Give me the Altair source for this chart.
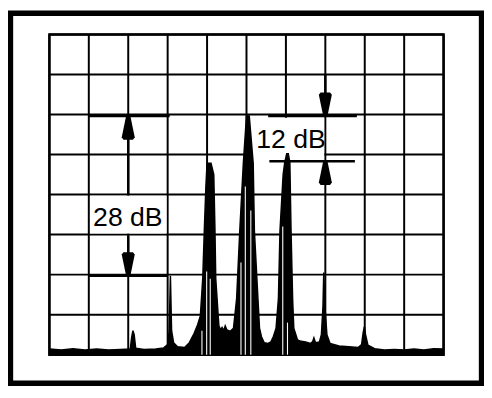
import altair as alt
import pandas as pd

# ---- spectrum trace (x in graticule divisions, y in divisions above bottom) ----
trace_x = [0.00, 0.30, 0.60, 0.90, 1.20, 1.50, 1.80,
           2.05, 2.09, 2.12, 2.15, 2.19,
           2.40, 2.70, 2.90, 3.00, 3.04, 3.07, 3.10, 3.15, 3.25,
           3.43, 3.55, 3.67, 3.76, 3.83, 3.89, 3.93, 3.97, 4.00, 4.10, 4.17, 4.20, 4.22, 4.28, 4.30,
           4.34, 4.38, 4.42, 4.46, 4.50, 4.55, 4.58,
           4.67, 4.75, 4.83, 4.92, 5.00, 5.07, 5.17, 5.20, 5.29, 5.33,
           5.38, 5.45, 5.55, 5.62, 5.68,
           5.75, 5.81, 5.85, 5.93, 5.97, 6.02, 6.06, 6.10, 6.13, 6.17, 6.20,
           6.29, 6.35, 6.50, 6.62, 6.68, 6.71, 6.75, 6.85, 6.90, 6.94, 6.96, 6.99, 7.04,
           7.12, 7.35, 7.60, 7.83, 7.92, 7.96, 7.99, 8.02, 8.08,
           8.25, 8.50, 8.75, 9.00, 9.25, 9.50, 9.75, 10.00]
trace_y = [0.14, 0.12, 0.15, 0.12, 0.14, 0.12, 0.13,
           0.14, 0.45, 0.60, 0.50, 0.16,
           0.13, 0.14, 0.17, 0.25, 0.60, 1.97, 0.60, 0.30, 0.20,
           0.18, 0.30, 0.53, 0.75, 0.97, 1.90, 3.10, 4.20, 4.78, 4.78, 4.50, 3.10, 1.90, 1.00, 0.72,
           0.62, 0.68, 0.60, 0.72, 0.62, 0.60, 0.58,
           0.66, 1.40, 3.10, 4.78, 5.96, 5.96, 4.78, 3.10, 1.40, 0.66,
           0.45, 0.30, 0.28, 0.32, 0.45,
           0.66, 1.40, 3.10, 4.50, 4.80, 5.02, 5.02, 4.80, 3.10, 1.40, 0.66,
           0.38, 0.34, 0.32, 0.28, 0.33, 0.42, 0.30, 0.32, 0.50, 1.20, 2.05, 1.20, 0.50,
           0.28, 0.22, 0.20, 0.18, 0.25, 0.55, 0.70, 0.50, 0.24,
           0.15, 0.12, 0.13, 0.12, 0.14, 0.12, 0.15, 0.14]

# white gaps inside the main peaks
sliver_x = [3.87, 3.99, 4.08, 4.86, 4.97, 5.11, 5.92, 6.04]
sliver_top = [0.60, 2.08, 1.90, 2.30, 4.20, 3.60, 3.20, 0.80]

# graticule
grid_x = [0, 1, 2, 3, 4, 5, 6, 7, 8, 9, 10]
grid_y = [0, 1, 2, 3, 4, 5, 6, 7, 8]

# annotation reference lines
ref_x1 = [1.00, 1.00, 5.55, 5.58]
ref_x2 = [3.05, 3.00, 7.80, 7.75]
ref_y = [5.96, 1.97, 5.96, 4.83]

# arrow stems
stem_x = [2.0, 2.0, 7.0]
stem_y1 = [5.96, 2.97, 7.00]
stem_y2 = [4.00, 1.97, 5.96]

# arrow tips
up_x = [2.0, 7.0]
up_y = [5.96, 4.83]
down_x = [2.0, 7.0]
down_y = [1.97, 5.96]

# label boxes and labels
box_x1 = [1.03, 5.10]
box_x2 = [2.97, 6.97]
box_y1 = [3.03, 4.87]
box_y2 = [3.97, 5.92]
label_text = ["28 dB", "12 dB"]
label_x = [1.99, 6.13]
label_y = [3.22, 5.17]

W, H = 400, 325
xs = alt.Scale(domain=[0, 10], nice=False, zero=False)
ys = alt.Scale(domain=[0, 8], nice=False, zero=False)


def X(f):
    return alt.X(f, type="quantitative", scale=xs, axis=None)


def Y(f):
    return alt.Y(f, type="quantitative", scale=ys, axis=None)


vgrid = alt.Chart(pd.DataFrame({"gx": grid_x, "lo": 0, "hi": 8})).mark_rule(
    color="black", strokeWidth=2).encode(x=X("gx"), y=Y("lo"), y2="hi")
hgrid = alt.Chart(pd.DataFrame({"gy": grid_y, "lo": 0, "hi": 10})).mark_rule(
    color="black", strokeWidth=2).encode(y=Y("gy"), x=X("lo"), x2="hi")
border = alt.Chart(pd.DataFrame({"a": [0]})).mark_rect(
    filled=False, stroke="black", strokeWidth=2.5).encode(
    x=alt.value(0), x2=alt.value(W), y=alt.value(0), y2=alt.value(H))

boxes = alt.Chart(pd.DataFrame({"x1": box_x1, "x2": box_x2, "y1": box_y1, "y2": box_y2})).mark_rect(
    color="white", opacity=1).encode(x=X("x1"), x2="x2", y=Y("y1"), y2="y2")

trace = alt.Chart(pd.DataFrame({"x": trace_x, "y": trace_y})).mark_area(
    color="black", line={"color": "black", "strokeWidth": 1.5}, opacity=1, interpolate="linear").encode(
    x=X("x"), y=Y("y"))

slivers = alt.Chart(pd.DataFrame({"sx": sliver_x, "lo": 0, "top": sliver_top})).mark_rule(
    color="white", strokeWidth=1.1).encode(x=X("sx"), y=Y("lo"), y2="top")

refs = alt.Chart(pd.DataFrame({"x1": ref_x1, "x2": ref_x2, "y": ref_y})).mark_rule(
    color="black", strokeWidth=2.5).encode(x=X("x1"), x2="x2", y=Y("y"))

stems = alt.Chart(pd.DataFrame({"x": stem_x, "y1": stem_y1, "y2": stem_y2})).mark_rule(
    color="black", strokeWidth=2.5).encode(x=X("x"), y=Y("y1"), y2="y2")

up_arrows = alt.Chart(pd.DataFrame({"x": up_x, "y": up_y})).mark_point(
    shape="M-0.18,-1L0.18,-1L0.55,0.8L0.4,1L-0.4,1L-0.55,0.8Z", filled=True, color="black", opacity=1,
    size=576, strokeWidth=0, yOffset=12).encode(x=X("x"), y=Y("y"))
down_arrows = alt.Chart(pd.DataFrame({"x": down_x, "y": down_y})).mark_point(
    shape="M-0.4,-1L0.4,-1L0.55,-0.8L0.18,1L-0.18,1L-0.55,-0.8Z", filled=True, color="black", opacity=1,
    size=576, strokeWidth=0, yOffset=-12).encode(x=X("x"), y=Y("y"))

labels = alt.Chart(pd.DataFrame({"t": label_text, "x": label_x, "y": label_y})).mark_text(
    font="Liberation Sans", fontSize=27, color="black", align="center", baseline="alphabetic").encode(
    x=X("x"), y=Y("y"), text="t:N")

frame = alt.Chart(pd.DataFrame({"a": [0]})).mark_rect(
    filled=False, stroke="black", strokeWidth=5.5).encode(
    x=alt.value(-39.5), x2=alt.value(438.5), y=alt.value(-21.5), y2=alt.value(354))

chart = alt.layer(
    vgrid, hgrid, border, boxes, trace, slivers, refs, stems, up_arrows, down_arrows, labels, frame
).properties(
    width=W, height=H,
    autosize=alt.AutoSizeParams(type="none"),
    padding={"left": 42, "top": 24, "right": 41, "bottom": 32},
    background="white",
).configure_view(stroke=None)

chart.save("out.html", embed_options={"renderer": "svg", "actions": False})
